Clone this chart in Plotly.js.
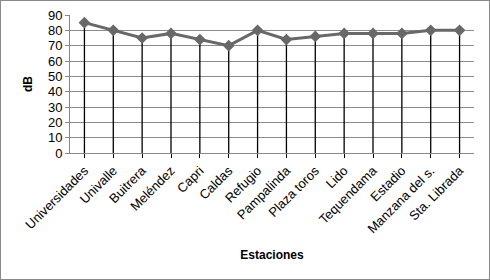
<!DOCTYPE html>
<html><head><meta charset="utf-8">
<script src="https://cdn.plot.ly/plotly-3.0.1.min.js"></script>
<style>html,body{margin:0;padding:0;background:#fff;}#c{width:488px;height:278px;border:1px solid #888;}</style>
</head><body><div id="c"></div>
<script>
var estaciones = ["Universidades","Univalle","Buitrera","Meléndez","Capri","Caldas","Refugio","Pampalinda","Plaza toros","Lido","Tequendama","Estadio","Manzana del s.","Sta. Librada"];
var dB = [85,80,75,78,74,70,80,74,76,78,78,78,80,80];
// drop lines built from the data arrays
var dropX = [], dropY = [];
estaciones.forEach(function(e, i){ dropX.push(e, e, null); dropY.push(0, dB[i], null); });
var drops = {
  x: dropX, y: dropY, type: 'scatter', mode: 'lines',
  line: {color: '#000', width: 1.3}, hoverinfo: 'none', connectgaps: false
};
var trace = {
  x: estaciones, y: dB, type: 'scatter', mode: 'lines+markers',
  line: {color: '#686868', width: 3},
  marker: {symbol: 'diamond', size: 9, color: '#686868'},
  hoverinfo: 'none'
};
var layout = {
  width: 488, height: 278,
  margin: {l: 69, r: 15, t: 14, b: 126},
  paper_bgcolor: '#fff', plot_bgcolor: '#fff',
  font: {family: 'Liberation Sans, Arial, sans-serif', size: 12, color: '#000'},
  showlegend: false,
  xaxis: {
    type: 'category', categoryarray: estaciones, categoryorder: 'array',
    range: [-0.5, 13.5], tickangle: -45,
    showgrid: false, showline: true, linecolor: '#888', linewidth: 1,
    ticks: 'outside', ticklen: 4, tickcolor: '#000',
    tickfont: {size: 13},
    title: {text: '<b>Estaciones</b>', font: {size: 12}, standoff: 15}
  },
  yaxis: {
    range: [0, 90], dtick: 10, showgrid: true, gridcolor: '#8c8c8c', gridwidth: 1,
    showline: true, linecolor: '#888', ticks: 'outside', ticklen: 4, tickcolor: '#888',
    zeroline: false, tickfont: {size: 13},
    title: {text: '<b>dB</b>', font: {size: 12}, standoff: 12}
  }
};
Plotly.newPlot('c', [drops, trace], layout, {displayModeBar: false, staticPlot: true});
</script></body></html>
